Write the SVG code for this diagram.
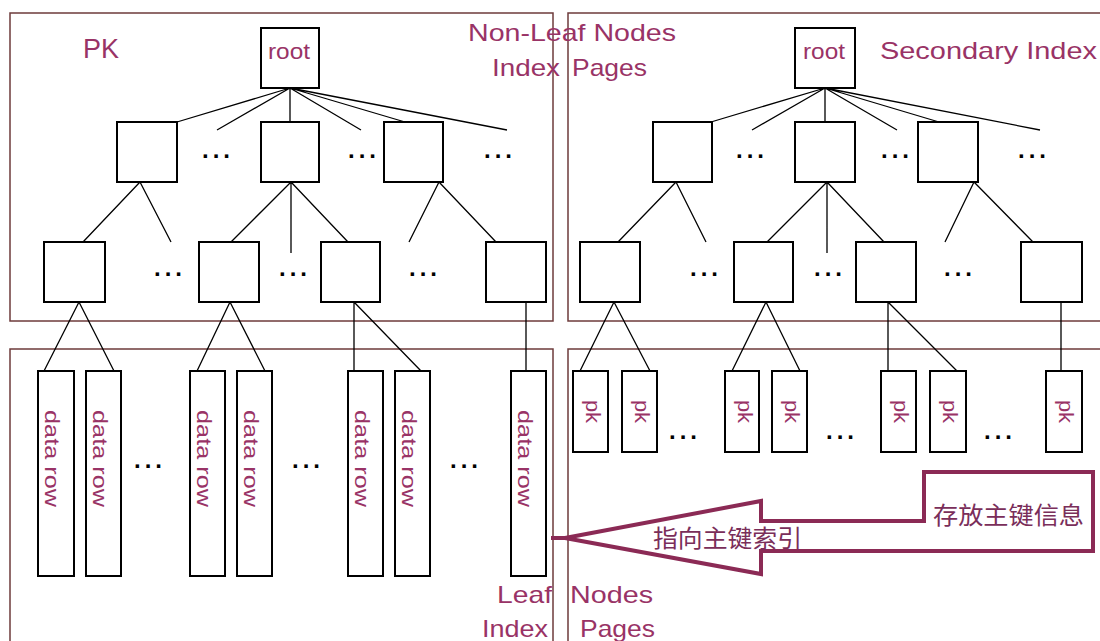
<svg xmlns="http://www.w3.org/2000/svg" width="1100" height="641" viewBox="0 0 1100 641">
<style>
.area{fill:none;stroke:#6e3b3b;stroke-width:1.5}
.nd{fill:#fff;stroke:#000;stroke-width:2}
.ln{stroke:#000;stroke-width:1.3;fill:none}
.lbl{font-family:"Liberation Sans",Arial,sans-serif;font-size:24px;fill:#993366}
.in{font-family:"Liberation Sans",Arial,sans-serif;font-size:21px;fill:#993366}
.rt{font-family:"Liberation Sans",Arial,sans-serif;font-size:22px;fill:#993366}
.pk{font-family:"Liberation Sans",Arial,sans-serif;font-size:27px;fill:#993366}
.dots{font-family:"Liberation Sans",Arial,sans-serif;font-size:24px;font-weight:bold;fill:#000}
.cjk{font-family:"Noto Sans CJK SC","Liberation Sans",sans-serif;font-size:24px;fill:#7a2e5a}
.arr{fill:none;stroke:#8b2a55;stroke-width:4;stroke-linejoin:miter}
</style>
<rect width="1100" height="641" fill="#fff"/>
<g id="areas">
<rect class="area" x="10" y="13" width="543" height="308"/>
<rect class="area" x="568" y="13" width="540" height="308"/>
<rect class="area" x="10" y="349" width="543" height="300"/>
<rect class="area" x="568" y="349" width="540" height="300"/>
</g>
<g id="connectors">
<path class="ln" d="M290 88L177 122M290 88L217 130M290 88L290 122M290 88L361 130M290 88L405 122M290 88L507 130"/>
<path class="ln" d="M140 182L83 242M140 182L171 242M291 182L231 242M291 182L291 253M291 182L348 242M439 182L409 242M439 182L496 242"/>
<path class="ln" d="M79 302L44 371M79 302L114 371M230 302L197 371M230 302L265 371M354 302L354 371M354 302L421 371M526 302L526 371"/>
<path class="ln" d="M825 88L711 122M825 88L752 130M825 88L825 122M825 88L897 130M825 88L939 122M825 88L1040 130"/>
<path class="ln" d="M676 182L618 242M676 182L706 242M827 182L767 242M827 182L827 253M827 182L884 242M974 182L945 242M974 182L1033 242"/>
<path class="ln" d="M614 302L580 371M614 302L650 371M766 302L732 371M766 302L800 371M888 302L888 371M888 302L957 371M1061 302L1061 371"/>
</g>
<g id="pk-root"><rect class="nd" x="261" y="28" width="58" height="60"/><text class="rt" x="268" y="59" textLength="42" lengthAdjust="spacingAndGlyphs">root</text></g>
<g id="pk-l2"><rect class="nd" x="117" y="122" width="60" height="60"/><rect class="nd" x="261" y="122" width="58" height="60"/><rect class="nd" x="384" y="122" width="59" height="60"/></g>
<g id="pk-l3"><rect class="nd" x="44" y="242" width="61" height="60"/><rect class="nd" x="199" y="242" width="60" height="60"/><rect class="nd" x="321" y="242" width="59" height="60"/><rect class="nd" x="486" y="242" width="60" height="60"/></g>
<g id="pk-leaves">
<rect class="nd" x="38" y="371" width="36" height="205"/><text class="in" transform="rotate(90 45 410)" x="45" y="410" textLength="97" lengthAdjust="spacingAndGlyphs">data row</text>
<rect class="nd" x="86" y="371" width="35" height="205"/><text class="in" transform="rotate(90 93 410)" x="93" y="410" textLength="97" lengthAdjust="spacingAndGlyphs">data row</text>
<rect class="nd" x="190" y="371" width="35" height="205"/><text class="in" transform="rotate(90 197 410)" x="197" y="410" textLength="97" lengthAdjust="spacingAndGlyphs">data row</text>
<rect class="nd" x="237" y="371" width="35" height="205"/><text class="in" transform="rotate(90 244 410)" x="244" y="410" textLength="97" lengthAdjust="spacingAndGlyphs">data row</text>
<rect class="nd" x="348" y="371" width="35" height="205"/><text class="in" transform="rotate(90 355 410)" x="355" y="410" textLength="97" lengthAdjust="spacingAndGlyphs">data row</text>
<rect class="nd" x="395" y="371" width="35" height="205"/><text class="in" transform="rotate(90 402 410)" x="402" y="410" textLength="97" lengthAdjust="spacingAndGlyphs">data row</text>
<rect class="nd" x="511" y="371" width="35" height="205"/><text class="in" transform="rotate(90 518 410)" x="518" y="410" textLength="97" lengthAdjust="spacingAndGlyphs">data row</text>
</g>
<g id="sec-root"><rect class="nd" x="795" y="28" width="60" height="60"/><text class="rt" x="803" y="59" textLength="42" lengthAdjust="spacingAndGlyphs">root</text></g>
<g id="sec-l2"><rect class="nd" x="653" y="122" width="59" height="60"/><rect class="nd" x="795" y="122" width="60" height="60"/><rect class="nd" x="918" y="122" width="60" height="60"/></g>
<g id="sec-l3"><rect class="nd" x="580" y="242" width="60" height="60"/><rect class="nd" x="734" y="242" width="59" height="60"/><rect class="nd" x="856" y="242" width="60" height="60"/><rect class="nd" x="1021" y="242" width="61" height="60"/></g>
<g id="sec-leaves">
<rect class="nd" x="573" y="371" width="35" height="81"/><text class="in" transform="rotate(90 586 400)" x="586" y="400" textLength="23" lengthAdjust="spacingAndGlyphs">pk</text>
<rect class="nd" x="622" y="371" width="35" height="81"/><text class="in" transform="rotate(90 635 400)" x="635" y="400" textLength="23" lengthAdjust="spacingAndGlyphs">pk</text>
<rect class="nd" x="725" y="371" width="34" height="81"/><text class="in" transform="rotate(90 738 400)" x="738" y="400" textLength="23" lengthAdjust="spacingAndGlyphs">pk</text>
<rect class="nd" x="772" y="371" width="35" height="81"/><text class="in" transform="rotate(90 785 400)" x="785" y="400" textLength="23" lengthAdjust="spacingAndGlyphs">pk</text>
<rect class="nd" x="881" y="371" width="35" height="81"/><text class="in" transform="rotate(90 894 400)" x="894" y="400" textLength="23" lengthAdjust="spacingAndGlyphs">pk</text>
<rect class="nd" x="930" y="371" width="36" height="81"/><text class="in" transform="rotate(90 943 400)" x="943" y="400" textLength="23" lengthAdjust="spacingAndGlyphs">pk</text>
<rect class="nd" x="1046" y="371" width="36" height="81"/><text class="in" transform="rotate(90 1059 400)" x="1059" y="400" textLength="23" lengthAdjust="spacingAndGlyphs">pk</text>
</g>
<g id="dots">
<text class="dots" x="202" y="158" textLength="28">...</text>
<text class="dots" x="348" y="158" textLength="28">...</text>
<text class="dots" x="484" y="158" textLength="28">...</text>
<text class="dots" x="154" y="276" textLength="28">...</text>
<text class="dots" x="279" y="276" textLength="28">...</text>
<text class="dots" x="409" y="276" textLength="28">...</text>
<text class="dots" x="134" y="468" textLength="28">...</text>
<text class="dots" x="292" y="468" textLength="28">...</text>
<text class="dots" x="450" y="468" textLength="28">...</text>
<text class="dots" x="736" y="158" textLength="28">...</text>
<text class="dots" x="881" y="158" textLength="28">...</text>
<text class="dots" x="1018" y="158" textLength="28">...</text>
<text class="dots" x="690" y="276" textLength="28">...</text>
<text class="dots" x="814" y="276" textLength="28">...</text>
<text class="dots" x="944" y="276" textLength="28">...</text>
<text class="dots" x="669" y="439" textLength="28">...</text>
<text class="dots" x="826" y="439" textLength="28">...</text>
<text class="dots" x="984" y="439" textLength="28">...</text>
</g>
<g id="labels">
<text class="pk" x="83" y="58" textLength="36" lengthAdjust="spacingAndGlyphs">PK</text>
<text class="lbl" x="468" y="41" textLength="208" lengthAdjust="spacingAndGlyphs">Non-Leaf Nodes</text>
<text class="lbl" y="76"><tspan x="492" textLength="68" lengthAdjust="spacingAndGlyphs">Index</tspan><tspan x="572" textLength="75" lengthAdjust="spacingAndGlyphs">Pages</tspan></text>
<text class="lbl" x="880" y="59" textLength="217" lengthAdjust="spacingAndGlyphs">Secondary Index</text>
<text class="lbl" y="603"><tspan x="497" textLength="55" lengthAdjust="spacingAndGlyphs">Leaf</tspan><tspan x="570" textLength="83" lengthAdjust="spacingAndGlyphs">Nodes</tspan></text>
<text class="lbl" y="637"><tspan x="482" textLength="66" lengthAdjust="spacingAndGlyphs">Index</tspan><tspan x="580" textLength="75" lengthAdjust="spacingAndGlyphs">Pages</tspan></text>
</g>
<g id="pointer">
<path class="arr" d="M565 538L761 501L761 521L924 521L924 472L1093 472L1093 551L761 551L761 574Z"/>
<path class="arr" d="M551 538L566 538"/>
<text class="cjk" x="933" y="524" textLength="151" lengthAdjust="spacingAndGlyphs">存放主键信息</text>
<text class="cjk" x="653" y="547" textLength="149" lengthAdjust="spacingAndGlyphs">指向主键索引</text>
</g>
</svg>
